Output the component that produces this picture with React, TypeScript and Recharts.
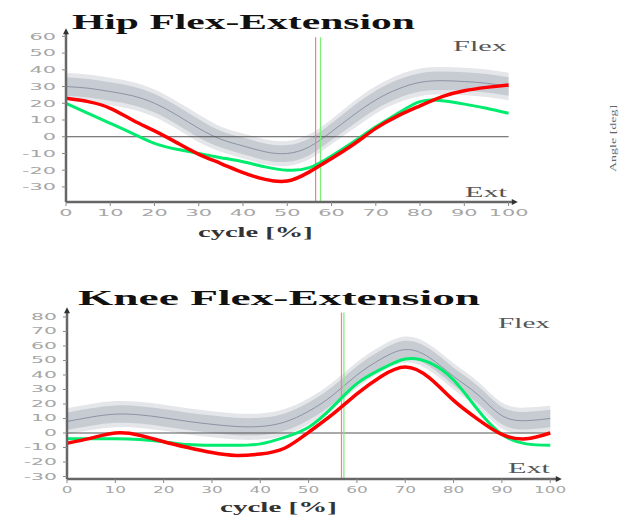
import React from 'react';
import { ComposedChart, Line, Area, XAxis, YAxis, ReferenceLine } from 'recharts';

// gait cycle grid [%]
const cycle = [0, 5, 10, 15, 20, 25, 30, 35, 40, 45, 50, 55, 60, 65, 70, 75, 80, 85, 90, 95, 100];

// Hip flex-extension [deg]
const hipNormMean = [30, 29, 27, 24.5, 20, 13, 5, -1.5, -5.5, -9, -10, -6, 3, 13, 22, 28.5, 32.5, 33.5, 33, 32, 30];
const hipNormSD = [5.5, 5.5, 5.5, 5.5, 5.5, 5.5, 5.5, 5, 5, 5, 5, 5, 5, 5.5, 5.5, 5.5, 5.5, 5.5, 5.5, 5.5, 5.5];
const hipRight = [23, 21, 17, 10, 3.5, -3.5, -10.5, -16, -21.5, -25.5, -26.5, -21, -13, -4.5, 5, 12.5, 18.5, 24, 27.5, 29.5, 31];
const hipLeft = [20, 14, 8, 2, -4, -7.5, -10, -12.5, -15, -18, -20, -18.5, -11.5, -3, 6, 14, 21, 21.5, 19.5, 17, 14];
const hipToeOffRight = 56.4;
const hipToeOffLeft = 57.5;

// Knee flex-extension [deg]
const kneeNormMean = [8, 11, 13, 12.5, 10.5, 8, 6, 4.5, 4.5, 7.5, 15, 26, 40, 51, 57.5, 52, 39, 26.5, 12, 8.5, 10];
const kneeNormSD = [6, 6, 6, 6, 6, 6, 6, 6, 6, 6, 6, 6, 6, 6, 6, 6, 6, 6, 6, 6, 6];
const kneeRight = [-7, -3.5, 0, -1.5, -6, -10, -13.5, -15.5, -14.5, -10.5, 0.5, 13, 27, 39, 45.5, 38, 22.5, 9.5, -1, -4, 0];
const kneeLeft = [-4, -4, -4, -4.5, -6, -8, -8.5, -8.5, -7.5, -3, 4, 18, 34, 44, 51, 48.5, 36.5, 16, -1, -7.5, -8.5];
const kneeToeOffRight = 56.8;
const kneeToeOffLeft = 57.3;

const xTicks = [0, 10, 20, 30, 40, 50, 60, 70, 80, 90, 100];
const hipYTicks = [-30, -20, -10, 0, 10, 20, 30, 40, 50, 60];
const kneeYTicks = [-30, -20, -10, 0, 10, 20, 30, 40, 50, 60, 70, 80];
const hipYDomain = [-39, 62];
const kneeYDomain = [-31.7, 83.4];

const build = (mean: number[], sd: number[], right: number[], left: number[]) =>
  cycle.map((c, i) => ({
    c,
    mean: mean[i],
    right: right[i],
    left: left[i],
    inner: [mean[i] - sd[i], mean[i] + sd[i]],
    outer: [mean[i] - 1.5 * sd[i], mean[i] + 1.5 * sd[i]],
  }));

const hipData = build(hipNormMean, hipNormSD, hipRight, hipLeft);
const kneeData = build(kneeNormMean, kneeNormSD, kneeRight, kneeLeft);

const TICK_COLOR = '#a6a6a6';
const AXIS_COLOR = '#666';
const RED = '#ff0000';
const GREEN = '#00ec6e';
const CURVE = 'natural';

const makeTick = (sx: number, fs: number, vertical: boolean) => (props: any) => {
  const { x, y, payload } = props;
  return (
    <g transform={`translate(${x},${y}) scale(${sx},1)`}>
      <text
        x={0}
        y={0}
        dy={vertical ? '0.35em' : '0.71em'}
        textAnchor={vertical ? 'end' : 'middle'}
        fontSize={fs}
        fontFamily="DejaVu Sans"
        fill={TICK_COLOR}
      >
        {payload.value}
      </text>
    </g>
  );
};

type PanelProps = {
  data: any[];
  width: number;
  height: number;
  top: number;
  margin: { top: number; right: number; bottom: number; left: number };
  xMax: number;
  yDomain: number[];
  yTicks: number[];
  toeRight: number;
  toeLeft: number;
  vTop: number;
  xSx: number;
  ySx: number;
  yFs: number;
};

const Panel = (p: PanelProps) => (
  <ComposedChart
    width={p.width}
    height={p.height}
    data={p.data}
    margin={p.margin}
    style={{ position: 'absolute', left: 0, top: p.top }}
  >
    <XAxis
      dataKey="c"
      type="number"
      domain={[0, p.xMax]}
      ticks={xTicks}
      height={30}
      tickSize={4}
      tickMargin={3}
      interval={0}
      allowDataOverflow
      axisLine={{ stroke: AXIS_COLOR, strokeWidth: 2.5, markerEnd: 'url(#arrowHead)' }}
      tickLine={{ stroke: '#888' }}
      tick={makeTick(p.xSx, 9.5, false)}
    />
    <YAxis
      type="number"
      domain={p.yDomain}
      ticks={p.yTicks}
      width={40}
      tickSize={4}
      tickMargin={6}
      interval={0}
      allowDataOverflow
      axisLine={{ stroke: AXIS_COLOR, strokeWidth: 2.5, markerStart: 'url(#arrowHead)' }}
      tickLine={{ stroke: '#888' }}
      tick={makeTick(p.ySx, p.yFs, true)}
    />
    <Area
      type={CURVE}
      dataKey="outer"
      stroke="none"
      fill="#e4e6e9"
      fillOpacity={1}
      isAnimationActive={false}
      dot={false}
      activeDot={false}
    />
    <Area
      type={CURVE}
      dataKey="inner"
      stroke="none"
      fill="#c7ccd3"
      fillOpacity={1}
      isAnimationActive={false}
      dot={false}
      activeDot={false}
    />
    <Line
      type={CURVE}
      dataKey="mean"
      stroke="#8c93a2"
      strokeWidth={1}
      dot={false}
      activeDot={false}
      isAnimationActive={false}
    />
    <ReferenceLine
      segment={[
        { x: 0, y: 0 },
        { x: 100, y: 0 },
      ]}
      stroke="#555"
      strokeWidth={1}
    />
    <ReferenceLine
      segment={[
        { x: p.toeRight, y: p.yDomain[0] },
        { x: p.toeRight, y: p.vTop },
      ]}
      stroke="#ff7a7a"
      strokeWidth={1.2}
    />
    <ReferenceLine
      segment={[
        { x: p.toeLeft, y: p.yDomain[0] },
        { x: p.toeLeft, y: p.vTop },
      ]}
      stroke="#7aef7a"
      strokeWidth={1.2}
    />
    <Line
      type={CURVE}
      dataKey="left"
      stroke={GREEN}
      strokeWidth={3}
      dot={false}
      activeDot={false}
      isAnimationActive={false}
    />
    <Line
      type={CURVE}
      dataKey="right"
      stroke={RED}
      strokeWidth={3.5}
      dot={false}
      activeDot={false}
      isAnimationActive={false}
    />
  </ComposedChart>
);

const Label = ({ x, y, sx, fs, bold, fill, children }: any) => (
  <text
    transform={`translate(${x},${y}) scale(${sx},1)`}
    x={0}
    y={0}
    fontSize={fs}
    fontWeight={bold ? 'bold' : 'normal'}
    fontFamily="'Liberation Serif', serif"
    fill={fill}
  >
    {children}
  </text>
);

export default function App() {
  return (
    <div
      style={{
        position: 'absolute',
        left: 0,
        top: 0,
        width: 621,
        height: 515,
        background: '#fff',
        overflow: 'hidden',
      }}
    >
      <Panel
        data={hipData}
        width={621}
        height={250}
        top={0}
        margin={{ top: 33, right: 108, bottom: 18, left: 26 }}
        xMax={101}
        yDomain={hipYDomain}
        yTicks={hipYTicks}
        toeRight={hipToeOffRight}
        toeLeft={hipToeOffLeft}
        vTop={59.5}
        xSx={2.2}
        ySx={2.2}
        yFs={9.5}
      />
      <Panel
        data={kneeData}
        width={621}
        height={235}
        top={280}
        margin={{ top: 32, right: 64, bottom: 6, left: 27 }}
        xMax={101.4}
        yDomain={kneeYDomain}
        yTicks={kneeYTicks}
        toeRight={kneeToeOffRight}
        toeLeft={kneeToeOffLeft}
        vTop={83}
        xSx={1.78}
        ySx={2.4}
        yFs={8.5}
      />
      <svg
        width={621}
        height={515}
        style={{ position: 'absolute', left: 0, top: 0, pointerEvents: 'none' }}
      >
        <defs>
          <marker
            id="arrowHead"
            viewBox="0 0 10 10"
            refX="2"
            refY="5"
            markerWidth="7"
            markerHeight="6"
            markerUnits="userSpaceOnUse"
            orient="auto-start-reverse"
          >
            <path d="M0,0 L10,5 L0,10 z" fill="#333" />
          </marker>
        </defs>
        <Label x={72} y={29} sx={1.98} fs={21} bold fill="#111">Hip Flex-Extension</Label>
        <Label x={78} y={305} sx={2.27} fs={20} bold fill="#111">Knee Flex-Extension</Label>
        <Label x={453} y={51} sx={2.17} fs={14} fill="#555">Flex</Label>
        <Label x={465} y={197} sx={2.16} fs={14} fill="#555">Ext</Label>
        <Label x={498} y={328} sx={2.09} fs={14} fill="#555">Flex</Label>
        <Label x={508} y={473} sx={2.16} fs={14} fill="#555">Ext</Label>
        <Label x={198} y={237} sx={1.9} fs={15} bold fill="#333">cycle [%]</Label>
        <Label x={220} y={512} sx={1.94} fs={15} bold fill="#333">cycle [%]</Label>
        <text
          transform="translate(616,172) rotate(-90) scale(1.75,1)"
          x={0}
          y={0}
          fontSize={8}
          fontFamily="'Liberation Serif', serif"
          fill="#666"
        >
          Angle [deg]
        </text>
      </svg>
    </div>
  );
}
